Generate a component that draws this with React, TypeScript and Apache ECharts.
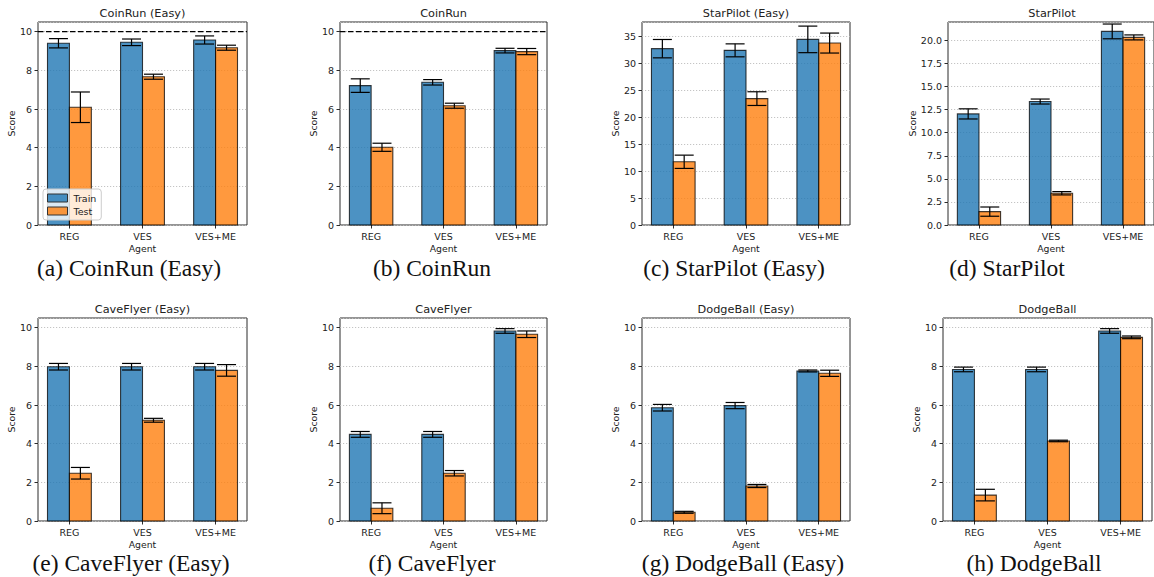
import React, { useEffect, useRef } from "react";
import * as echarts from "echarts";

// ---------- data ----------
const AGENTS = ["REG", "VES", "VES+ME"];
const TITLES = [
  "CoinRun (Easy)", "CoinRun", "StarPilot (Easy)", "StarPilot",
  "CaveFlyer (Easy)", "CaveFlyer", "DodgeBall (Easy)", "DodgeBall",
];
const CAPTIONS = [
  "(a) CoinRun (Easy)", "(b) CoinRun", "(c) StarPilot (Easy)", "(d) StarPilot",
  "(e) CaveFlyer (Easy)", "(f) CaveFlyer", "(g) DodgeBall (Easy)", "(h) DodgeBall",
];
const TRAIN_MEAN = [
  [9.40, 9.45, 9.57],
  [7.21, 7.38, 9.02],
  [32.66, 32.35, 34.38],
  [12.04, 13.38, 20.98],
  [7.98, 7.98, 7.98],
  [4.48, 4.48, 9.83],
  [5.86, 5.97, 7.76],
  [7.84, 7.84, 9.83],
];
const TRAIN_ERR = [
  [0.24, 0.17, 0.21],
  [0.35, 0.14, 0.12],
  [1.7, 1.2, 2.46],
  [0.55, 0.27, 0.8],
  [0.17, 0.17, 0.17],
  [0.15, 0.15, 0.12],
  [0.17, 0.16, 0.05],
  [0.12, 0.12, 0.12],
];
const TEST_MEAN = [
  [6.09, 7.67, 9.17],
  [4.02, 6.17, 8.97],
  [11.71, 23.41, 33.70],
  [1.45, 3.44, 20.33],
  [2.47, 5.21, 7.79],
  [0.66, 2.47, 9.66],
  [0.45, 1.81, 7.64],
  [1.34, 4.14, 9.50],
];
const TEST_ERR = [
  [0.79, 0.13, 0.13],
  [0.21, 0.13, 0.16],
  [1.23, 1.27, 1.85],
  [0.5, 0.18, 0.27],
  [0.3, 0.1, 0.3],
  [0.28, 0.14, 0.17],
  [0.05, 0.08, 0.16],
  [0.3, 0.04, 0.07],
];
const Y_MAX = [10.5, 10.5, 37.6, 22, 10.5, 10.5, 10.5, 10.5];
const Y_STEP = [2, 2, 5, 2.5, 2, 2, 2, 2];
const Y_DECIMALS = [0, 0, 0, 1, 0, 0, 0, 0];
const MAX_SCORE_LINE = [10, 10, null, null, null, null, null, null];

// ---------- layout ----------
const GRIDS = [
  { left: 38, top: 22, width: 209, height: 203 },
  { left: 340, top: 22, width: 207, height: 203 },
  { left: 642, top: 22, width: 208, height: 203 },
  { left: 948, top: 22, width: 208, height: 203 },
  { left: 38, top: 318, width: 209, height: 203 },
  { left: 340, top: 318, width: 207, height: 203 },
  { left: 642, top: 318, width: 208, height: 203 },
  { left: 943, top: 318, width: 209, height: 203 },
];
const CAPTION_POS = [
  [129, 268], [432, 268], [734, 268], [1007, 268],
  [131, 563], [432, 563], [743, 563], [1034, 563],
];
const Y_NAME_GAP = [22, 22, 22, 31, 22, 22, 22, 22];
const X_MIN = -0.43;
const X_MAX = 2.43;
const HALF = 0.15;
const TRAIN_COLOR = "rgba(31,119,180,0.8)";
const TEST_COLOR = "rgba(255,127,14,0.8)";
const FONT = "DejaVu Sans";

function barRender(color: string) {
  return (params: any, api: any) => {
    const x = api.value(0);
    const v = api.value(1);
    const p0 = api.coord([x - HALF, v]);
    const p1 = api.coord([x + HALF, 0]);
    return {
      type: "rect",
      shape: { x: p0[0], y: p0[1], width: p1[0] - p0[0], height: p1[1] - p0[1] },
      style: { fill: color, stroke: "rgba(0,0,0,0.75)", lineWidth: 1.1 },
    };
  };
}

function errRender(params: any, api: any) {
  const x = api.value(0);
  const v = api.value(1);
  const e = api.value(2);
  const top = api.coord([x, v + e]);
  const bot = api.coord([x, v - e]);
  const cw = 9.5;
  const st = { stroke: "#000", lineWidth: 1.2 };
  return {
    type: "group",
    children: [
      { type: "line", shape: { x1: top[0], y1: top[1], x2: bot[0], y2: bot[1] }, style: st },
      { type: "line", shape: { x1: top[0] - cw, y1: top[1], x2: top[0] + cw, y2: top[1] }, style: st },
      { type: "line", shape: { x1: bot[0] - cw, y1: bot[1], x2: bot[0] + cw, y2: bot[1] }, style: st },
    ],
  };
}

function buildOption() {
  const grid: any[] = [];
  const xAxis: any[] = [];
  const yAxis: any[] = [];
  const series: any[] = [];
  const graphic: any[] = [];

  for (let k = 0; k < 8; k++) {
    grid.push({
      ...GRIDS[k],
      show: true,
      borderColor: "#2b2b2b",
      borderWidth: 1,
      backgroundColor: "transparent",
      containLabel: false,
    });
    xAxis.push({
      type: "value",
      gridIndex: k,
      min: X_MIN,
      max: X_MAX,
      name: "Agent",
      nameLocation: "middle",
      nameGap: 19,
      nameTextStyle: { fontFamily: FONT, fontSize: 9.3, color: "#222" },
      axisLine: { show: false, onZero: false },
      axisTick: {
        show: true,
        inside: false,
        length: 3.5,
        customValues: [0, 1, 2],
        lineStyle: { color: "#2b2b2b", width: 1 },
      },
      axisLabel: {
        show: true,
        margin: 6,
        customValues: [0, 1, 2],
        fontFamily: FONT,
        fontSize: 9.5,
        color: "#222",
        formatter: (v: number) =>
          Math.abs(v - Math.round(v)) < 1e-6 && AGENTS[Math.round(v)] ? AGENTS[Math.round(v)] : "",
      },
      splitLine: { show: false },
    });
    const dec = Y_DECIMALS[k];
    yAxis.push({
      type: "value",
      gridIndex: k,
      min: 0,
      max: Y_MAX[k],
      interval: Y_STEP[k],
      name: "Score",
      nameLocation: "middle",
      nameRotate: 90,
      nameGap: Y_NAME_GAP[k],
      nameTextStyle: { fontFamily: FONT, fontSize: 9.3, color: "#222" },
      axisLine: { show: false, onZero: false },
      axisTick: { show: true, inside: false, length: 3.5, lineStyle: { color: "#2b2b2b", width: 1 } },
      axisLabel: {
        show: true,
        margin: 6,
        showMaxLabel: false,
        fontFamily: FONT,
        fontSize: 9.5,
        color: "#222",
        formatter: (v: number) => {
          const r = Math.round(v / Y_STEP[k]) * Y_STEP[k];
          if (Math.abs(v - r) > 1e-6) return "";
          return v.toFixed(dec);
        },
      },
      splitLine: { show: true, lineStyle: { type: [1.2, 1.8], color: "#bdbdbd", width: 0.9 } },
    });

    const trainBars = AGENTS.map((_, i) => [i - HALF, TRAIN_MEAN[k][i]]);
    const testBars = AGENTS.map((_, i) => [i + HALF, TEST_MEAN[k][i]]);
    const errs = AGENTS.map((_, i) => [i - HALF, TRAIN_MEAN[k][i], TRAIN_ERR[k][i]]).concat(
      AGENTS.map((_, i) => [i + HALF, TEST_MEAN[k][i], TEST_ERR[k][i]])
    );

    series.push({
      type: "custom",
      name: "Train",
      xAxisIndex: k,
      yAxisIndex: k,
      itemStyle: { color: TRAIN_COLOR },
      renderItem: barRender(TRAIN_COLOR),
      data: trainBars,
      encode: { x: 0, y: 1 },
      silent: true,
      z: 2,
    });
    series.push({
      type: "custom",
      name: "Test",
      xAxisIndex: k,
      yAxisIndex: k,
      itemStyle: { color: TEST_COLOR },
      renderItem: barRender(TEST_COLOR),
      data: testBars,
      encode: { x: 0, y: 1 },
      silent: true,
      z: 2,
    });
    series.push({
      type: "custom",
      name: "err" + k,
      xAxisIndex: k,
      yAxisIndex: k,
      renderItem: errRender,
      data: errs,
      encode: { x: 0, y: 1 },
      silent: true,
      z: 3,
    });
    const ref = MAX_SCORE_LINE[k];
    if (ref !== null) {
      series.push({
        type: "line",
        name: "max" + k,
        xAxisIndex: k,
        yAxisIndex: k,
        data: [[X_MIN, ref], [X_MAX, ref]],
        symbol: "none",
        silent: true,
        lineStyle: { type: [5.5, 2.5], color: "#000", width: 1.4 },
        z: 4,
      });
    }

    const g = GRIDS[k];
    graphic.push({
      type: "text",
      x: g.left + g.width / 2,
      y: g.top - 9,
      style: {
        text: TITLES[k],
        fontFamily: FONT,
        fontSize: 11.3,
        fill: "#222",
        align: "center",
        verticalAlign: "middle",
        textAlign: "center",
        textVerticalAlign: "middle",
      },
    });
    graphic.push({
      type: "text",
      x: CAPTION_POS[k][0],
      y: CAPTION_POS[k][1],
      style: {
        text: CAPTIONS[k],
        fontFamily: "Liberation Serif",
        fontSize: 23.5,
        fill: "#111",
        align: "center",
        verticalAlign: "middle",
        textAlign: "center",
        textVerticalAlign: "middle",
      },
    });
  }

  return {
    animation: false,
    backgroundColor: "#fff",
    grid,
    xAxis,
    yAxis,
    series,
    graphic,
    legend: {
      show: true,
      orient: "vertical",
      left: 43,
      top: 189,
      padding: [4, 5, 4, 4],
      itemGap: 3,
      itemWidth: 20,
      itemHeight: 8,
      selectedMode: false,
      backgroundColor: "rgba(255,255,255,0.8)",
      borderColor: "#cccccc",
      borderWidth: 1,
      borderRadius: 3,
      textStyle: { fontFamily: FONT, fontSize: 9.5, color: "#222", padding: [0, 0, 0, 1] },
      data: [
        { name: "Train", icon: "rect", itemStyle: { color: TRAIN_COLOR, borderColor: "#333", borderWidth: 1 } },
        { name: "Test", icon: "rect", itemStyle: { color: TEST_COLOR, borderColor: "#333", borderWidth: 1 } },
      ],
      z: 10,
    },
  };
}

export default function App() {
  const ref = useRef<HTMLDivElement>(null);
  useEffect(() => {
    if (!ref.current) return;
    const chart = echarts.init(ref.current, undefined, { renderer: "svg" });
    chart.setOption(buildOption() as any);
    return () => chart.dispose();
  }, []);
  return (
    <div
      ref={ref}
      style={{ position: "absolute", left: 0, top: 0, width: 1154, height: 577, background: "#fff" }}
    />
  );
}
